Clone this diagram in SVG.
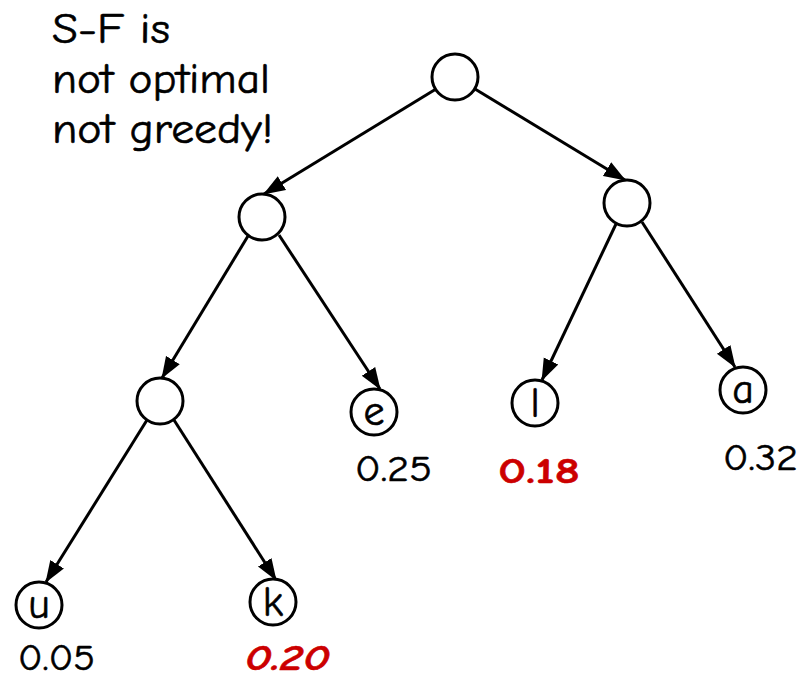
<svg xmlns="http://www.w3.org/2000/svg" width="803" height="680" viewBox="0 0 803 680">
  <style>
    .node circle { fill: #ffffff; stroke: #000000; stroke-width: 3; }
    .lbl { font-family: "Comic Sans MS", "Comic Neue", "DejaVu Sans", sans-serif; font-size: 42px; fill: #000000; stroke: #000000; stroke-width: 0.6; text-anchor: middle; }
    .prob { font-family: "Comic Sans MS", "Comic Neue", "DejaVu Sans", sans-serif; font-size: 37px; fill: #000000; stroke: #000000; stroke-width: 0.5; }
    .hot { fill: #cc0000; stroke: #cc0000; font-weight: bold; }
    .note { font-family: "Comic Sans MS", "Comic Neue", "DejaVu Sans", sans-serif; font-size: 43px; fill: #000000; stroke: #000000; stroke-width: 0.6; }
    .edge { stroke: #000000; stroke-width: 3; fill: none; marker-end: url(#arrow); }
  </style>
  <defs>
    <marker id="arrow" markerUnits="userSpaceOnUse" markerWidth="22" markerHeight="18" viewBox="0 0 22 18" refX="21" refY="9" orient="auto">
      <path d="M0,1 L22,9 L0,17 Z" fill="#000000"/>
    </marker>
  </defs>

  <rect width="803" height="680" fill="#ffffff"/>

  <!-- caption -->
  <g id="caption" class="note">
    <text x="52" y="43" textLength="118" lengthAdjust="spacingAndGlyphs">S-F is</text>
    <text x="52" y="93" textLength="218" lengthAdjust="spacingAndGlyphs">not optimal</text>
    <text x="52" y="143" textLength="221" lengthAdjust="spacingAndGlyphs">not greedy!</text>
  </g>

  <!-- connectors -->
  <g id="edges">
    <line class="edge" x1="436" y1="89" x2="264" y2="194"/>
    <line class="edge" x1="475" y1="89" x2="625" y2="180"/>
    <line class="edge" x1="248" y1="236" x2="162" y2="378"/>
    <line class="edge" x1="279" y1="235" x2="380" y2="389"/>
    <line class="edge" x1="616" y1="224" x2="542" y2="380"/>
    <line class="edge" x1="642" y1="222" x2="735" y2="367"/>
    <line class="edge" x1="147" y1="420" x2="46" y2="582"/>
    <line class="edge" x1="174" y1="420" x2="276" y2="580"/>
  </g>

  <!-- nodes -->
  <g id="root" class="node"><circle cx="455" cy="77" r="23"/></g>
  <g id="n-left" class="node"><circle cx="262" cy="217" r="23"/></g>
  <g id="n-right" class="node"><circle cx="627" cy="203" r="23"/></g>
  <g id="n-leftleft" class="node"><circle cx="160" cy="401" r="23"/></g>

  <g id="leaf-e" class="node">
    <circle cx="374" cy="412" r="23"/>
    <text class="lbl" x="374" y="425">e</text>
    <text class="prob" x="355" y="481" textLength="77" lengthAdjust="spacingAndGlyphs">0.25</text>
  </g>
  <g id="leaf-l" class="node">
    <circle cx="535" cy="403" r="23"/>
    <text class="lbl" x="535" y="417">l</text>
    <text class="prob hot" x="498" y="483" textLength="82" lengthAdjust="spacingAndGlyphs">0.18</text>
  </g>
  <g id="leaf-a" class="node">
    <circle cx="743" cy="390" r="23"/>
    <text class="lbl" x="743" y="403">a</text>
    <text class="prob" x="723" y="470" textLength="75" lengthAdjust="spacingAndGlyphs">0.32</text>
  </g>
  <g id="leaf-u" class="node">
    <circle cx="39" cy="605" r="23"/>
    <text class="lbl" x="39" y="618">u</text>
    <text class="prob" x="18" y="670" textLength="77" lengthAdjust="spacingAndGlyphs">0.05</text>
  </g>
  <g id="leaf-k" class="node">
    <circle cx="273" cy="602" r="23"/>
    <text class="lbl" x="273" y="616">k</text>
    <text class="prob hot" x="245" y="670" font-style="italic" textLength="85" lengthAdjust="spacingAndGlyphs">0.20</text>
  </g>
</svg>
